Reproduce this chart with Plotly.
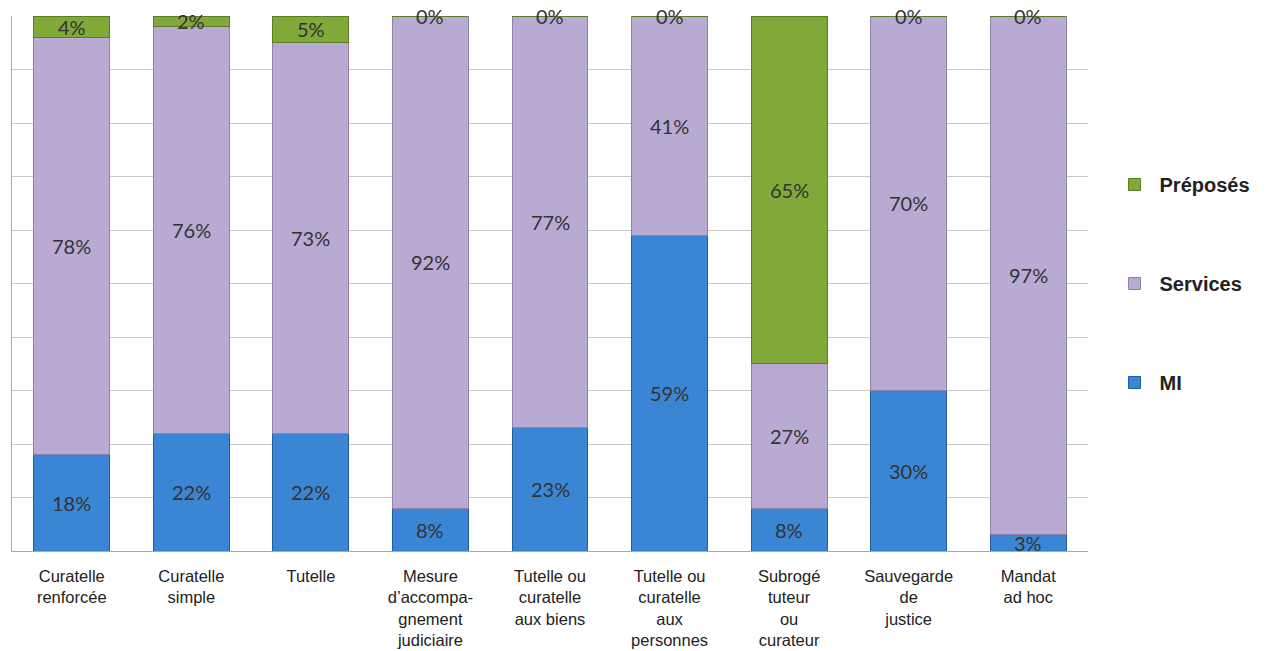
import plotly.graph_objects as go

categories = [
    "Curatelle<br>renforcée",
    "Curatelle<br>simple",
    "Tutelle",
    "Mesure<br>d’accompa-<br>gnement<br>judiciaire",
    "Tutelle ou<br>curatelle<br>aux biens",
    "Tutelle ou<br>curatelle<br>aux<br>personnes",
    "Subrogé<br>tuteur<br>ou<br>curateur",
    "Sauvegarde<br>de<br>justice",
    "Mandat<br>ad hoc",
]
mi = [18, 22, 22, 8, 23, 59, 8, 30, 3]
services = [78, 76, 73, 92, 77, 41, 27, 70, 97]
preposes = [4, 2, 5, 0, 0, 0, 65, 0, 0]

series = [
    ("MI", mi, "#3a86d4", "#1f5d9c", 3),
    ("Services", services, "#b9aad4", "#8f80aa", 2),
    ("Préposés", preposes, "#80a93a", "#5b7d22", 1),
]

fig = go.Figure()
for name, vals, col, line, rank in series:
    fig.add_trace(go.Bar(
        name=f"<b>{name}</b>", x=categories, y=vals,
        marker=dict(color=col, line=dict(color=line, width=1)),
        legendgroup=name, legendrank=rank, width=0.635,
    ))

# data labels, centred in each segment (including 0% at the top)
base = [0] * len(categories)
for name, vals, col, line, rank in series:
    for i, v in enumerate(vals):
        fig.add_annotation(
            x=categories[i], y=base[i] + v / 2, text=f"{v}%",
            showarrow=False,
            font=dict(family="Lato, Open Sans, sans-serif", size=20, color="#333333"),
        )
        base[i] += v

fig.update_layout(
    barmode="stack",
    width=1271, height=651,
    margin=dict(l=4, r=191, t=8, b=108, autoexpand=False),
    paper_bgcolor="white", plot_bgcolor="white",
    showlegend=True,
    legend=dict(
        x=1.02, xanchor="left", y=0.5, yanchor="middle",
        traceorder="grouped", tracegroupgap=70,
        font=dict(family="Liberation Sans, Arial, sans-serif", size=20, color="#222222"),
        itemwidth=40,
    ),
    font=dict(family="Liberation Sans, Arial, sans-serif", size=16.5, color="#222222"),
)
fig.update_yaxes(
    range=[0, 100], dtick=10, showticklabels=False,
    showgrid=True, gridcolor="#c8c8c8", gridwidth=1,
    showline=True, linecolor="#a8a8a8", linewidth=1,
    zeroline=False, automargin=False,
)
fig.update_xaxes(
    showline=True, linecolor="#a8a8a8", linewidth=1,
    tickfont=dict(size=16.5, color="#222222"),
    ticks="", tickangle=0, automargin=False, ticklabelstandoff=10,
)

fig.write_html("out.html")
